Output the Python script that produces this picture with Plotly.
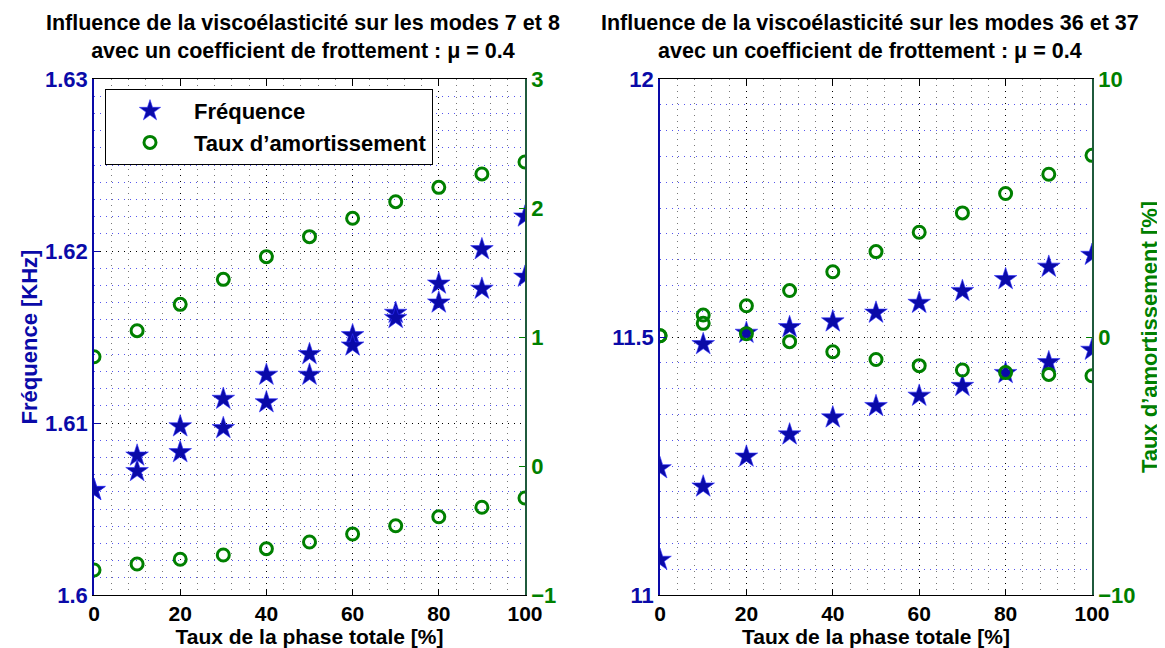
import plotly.graph_objects as go

# ---------------- data ----------------
taux_phase = [0, 10, 20, 30, 40, 50, 60, 70, 80, 90, 100]

# modes 7 et 8 (left panel)
freq_m7 = [1.6061, 1.6072, 1.6083, 1.6097, 1.6112, 1.6128, 1.6145, 1.6161, 1.6170, 1.6178, 1.6185]
freq_m8 = [1.6061, 1.6081, 1.6098, 1.6114, 1.6128, 1.6140, 1.6151, 1.6164, 1.6181, 1.6201, 1.6220]
amort_m7 = [0.847, 1.049, 1.253, 1.447, 1.623, 1.778, 1.920, 2.049, 2.160, 2.264, 2.357]
amort_m8 = [-0.806, -0.760, -0.723, -0.690, -0.641, -0.589, -0.527, -0.463, -0.393, -0.320, -0.248]

# modes 36 et 37 (right panel)
freq_m36 = [11.068, 11.210, 11.268, 11.311, 11.344, 11.366, 11.386, 11.405, 11.430, 11.451, 11.475]
freq_m37 = [11.2455, 11.486, 11.508, 11.519, 11.530, 11.547, 11.566, 11.589, 11.612, 11.636, 11.659]
amort_m36 = [0.05, 0.85, 1.21, 1.80, 2.53, 3.31, 4.06, 4.81, 5.56, 6.31, 7.04]
amort_m37 = [0.05, 0.53, 0.13, -0.18, -0.57, -0.87, -1.11, -1.28, -1.38, -1.45, -1.50]

x_ticks = [0, 20, 40, 60, 80, 100]
y1_ticks = [1.60, 1.61, 1.62, 1.63]
y1_labels = ["1.6", "1.61", "1.62", "1.63"]
y2_ticks = [-1, 0, 1, 2, 3]
y2_labels = ["\u22121", "0", "1", "2", "3"]
y3_ticks = [11, 11.5, 12]
y3_labels = ["11", "11.5", "12"]
y4_ticks = [-10, 0, 10]
y4_labels = ["\u221210", "0", "10"]

title_left = "Influence de la viscoélasticité sur les modes 7 et 8<br>avec un coefficient de frottement : μ = 0.4"
title_right = "Influence de la viscoélasticité sur les modes 36 et 37<br>avec un coefficient de frottement : μ = 0.4"
x_title = "Taux de la phase totale [%]"
freq_title = "Fréquence [KHz]"
amort_title = "Taux d\u2019amortissement [%]"
legend_freq = "Fréquence"
legend_amort = "Taux d\u2019amortissement"

# ---------------- style ----------------
BLUE = "#0a0aa8"
GREEN = "#008000"
AXGREEN = "#1f5a3c"
FONT = "Liberation Sans, Arial, sans-serif"
FS = 22
FX = 21
FT = 21.5

# the page body has an 8px margin: build the figure so that it fills the window
OFF = 8
W, H = 1165 - OFF, 648 - OFF

# plot area in window pixels
L1, R1 = 94, 525
L2, R2 = 660, 1092
TOP, BOT = 79, 595

def fx(px):
    return (px - OFF) / W

def fy(py):
    return 1 - (py - OFF) / H

star = dict(symbol="star", size=17, color=BLUE, line=dict(width=0.6, color="#3030ff"))
circ = dict(symbol="circle-open", size=12, color=GREEN, line=dict(width=3, color=GREEN))

fig = go.Figure()

fig.add_trace(go.Scatter(x=taux_phase, y=freq_m8, mode="markers", marker=star,
                         name=legend_freq, xaxis="x", yaxis="y", showlegend=True))
fig.add_trace(go.Scatter(x=taux_phase, y=freq_m7, mode="markers", marker=star,
                         name=legend_freq, xaxis="x", yaxis="y", showlegend=False))
fig.add_trace(go.Scatter(x=taux_phase, y=amort_m7, mode="markers", marker=circ,
                         name=legend_amort, xaxis="x", yaxis="y2", showlegend=True))
fig.add_trace(go.Scatter(x=taux_phase, y=amort_m8, mode="markers", marker=circ,
                         name=legend_amort, xaxis="x", yaxis="y2", showlegend=False))

fig.add_trace(go.Scatter(x=taux_phase, y=freq_m36, mode="markers", marker=star,
                         xaxis="x2", yaxis="y3", showlegend=False))
fig.add_trace(go.Scatter(x=taux_phase, y=freq_m37, mode="markers", marker=star,
                         xaxis="x2", yaxis="y3", showlegend=False))
fig.add_trace(go.Scatter(x=taux_phase, y=amort_m36, mode="markers", marker=circ,
                         xaxis="x2", yaxis="y4", showlegend=False))
fig.add_trace(go.Scatter(x=taux_phase, y=amort_m37, mode="markers", marker=circ,
                         xaxis="x2", yaxis="y4", showlegend=False))

DASH = "1px,5px"

def xaxis_def(l, r, anchor):
    return dict(
        domain=[fx(l), fx(r)], anchor=anchor, range=[0, 100], automargin=False,
        tickmode="array", tickvals=x_ticks,
        showline=True, linecolor="black", linewidth=1, mirror="ticks",
        ticks="inside", ticklen=6, tickcolor="black",
        showgrid=True, gridcolor="black", griddash=DASH, gridwidth=1,
        minor=dict(tickmode="linear", tick0=0, dtick=4, showgrid=True,
                   gridcolor="#777777", griddash=DASH, gridwidth=1),
        zeroline=False,
        tickfont=dict(family=FONT, size=FX, color="black", weight="bold"),
        title=dict(text=x_title, standoff=6,
                   font=dict(family=FONT, size=FX, color="black", weight="bold")),
    )

def yleft_def(rng, tv, tt, t0, minor_dt, anchor, title=None):
    d = dict(
        domain=[fy(BOT), fy(TOP)], anchor=anchor, range=rng, automargin=False,
        tickmode="array", tickvals=tv, ticktext=tt,
        showline=True, linecolor=BLUE, linewidth=1.5,
        ticks="inside", ticklen=6, tickcolor=BLUE,
        showgrid=True, gridcolor="black", griddash=DASH, gridwidth=1,
        minor=dict(tickmode="linear", tick0=t0, dtick=minor_dt, showgrid=True,
                   gridcolor="#5555ee", griddash=DASH, gridwidth=1),
        zeroline=False,
        tickfont=dict(family=FONT, size=FS, color=BLUE, weight="bold"),
    )
    if title:
        d["title"] = dict(text=title, standoff=1,
                          font=dict(family=FONT, size=FS, color=BLUE, weight="bold"))
    return d

def yright_def(rng, tv, tt, overlay, anchor, title=None):
    d = dict(
        overlaying=overlay, side="right", anchor=anchor, range=rng, automargin=False,
        tickmode="array", tickvals=tv, ticktext=tt,
        showline=True, linecolor=AXGREEN, linewidth=1.5,
        ticks="inside", ticklen=6, tickcolor=GREEN,
        showgrid=False, zeroline=False,
        tickfont=dict(family=FONT, size=FS, color=GREEN, weight="bold"),
    )
    if title:
        d["title"] = dict(text=title, standoff=7,
                          font=dict(family=FONT, size=FS, color=GREEN, weight="bold"))
    return d

fig.update_layout(
    template="none",
    width=W, height=H,
    margin=dict(l=0, r=0, t=0, b=0, autoexpand=False),
    paper_bgcolor="white", plot_bgcolor="white",
    font=dict(family=FONT, size=FS, color="black", weight="bold"),
    xaxis=xaxis_def(L1, R1, "y"),
    xaxis2=xaxis_def(L2, R2, "y3"),
    yaxis=yleft_def([1.6, 1.63], y1_ticks, y1_labels, 1.6, 0.001, "x", freq_title),
    yaxis2=yright_def([-1, 3], y2_ticks, y2_labels, "y", "x"),
    yaxis3=yleft_def([11, 12], y3_ticks, y3_labels, 11, 0.05, "x2"),
    yaxis4=yright_def([-10, 10], y4_ticks, y4_labels, "y3", "x2", amort_title),
    showlegend=True,
    legend=dict(x=fx(105), y=fy(89), xanchor="left", yanchor="top",
                bgcolor="white", bordercolor="black", borderwidth=1,
                font=dict(family=FONT, size=FS, color="black", weight="bold"),
                itemwidth=78, tracegroupgap=0),
    annotations=[
        dict(text=title_left, x=fx(303), y=fy(9), xref="paper", yref="paper",
             xanchor="center", yanchor="top", showarrow=False,
             font=dict(family=FONT, size=FT, color="black", weight="bold")),
        dict(text=title_right, x=fx(870), y=fy(9), xref="paper", yref="paper",
             xanchor="center", yanchor="top", showarrow=False,
             font=dict(family=FONT, size=FT, color="black", weight="bold")),
    ],
)

fig.write_html("out.html")
